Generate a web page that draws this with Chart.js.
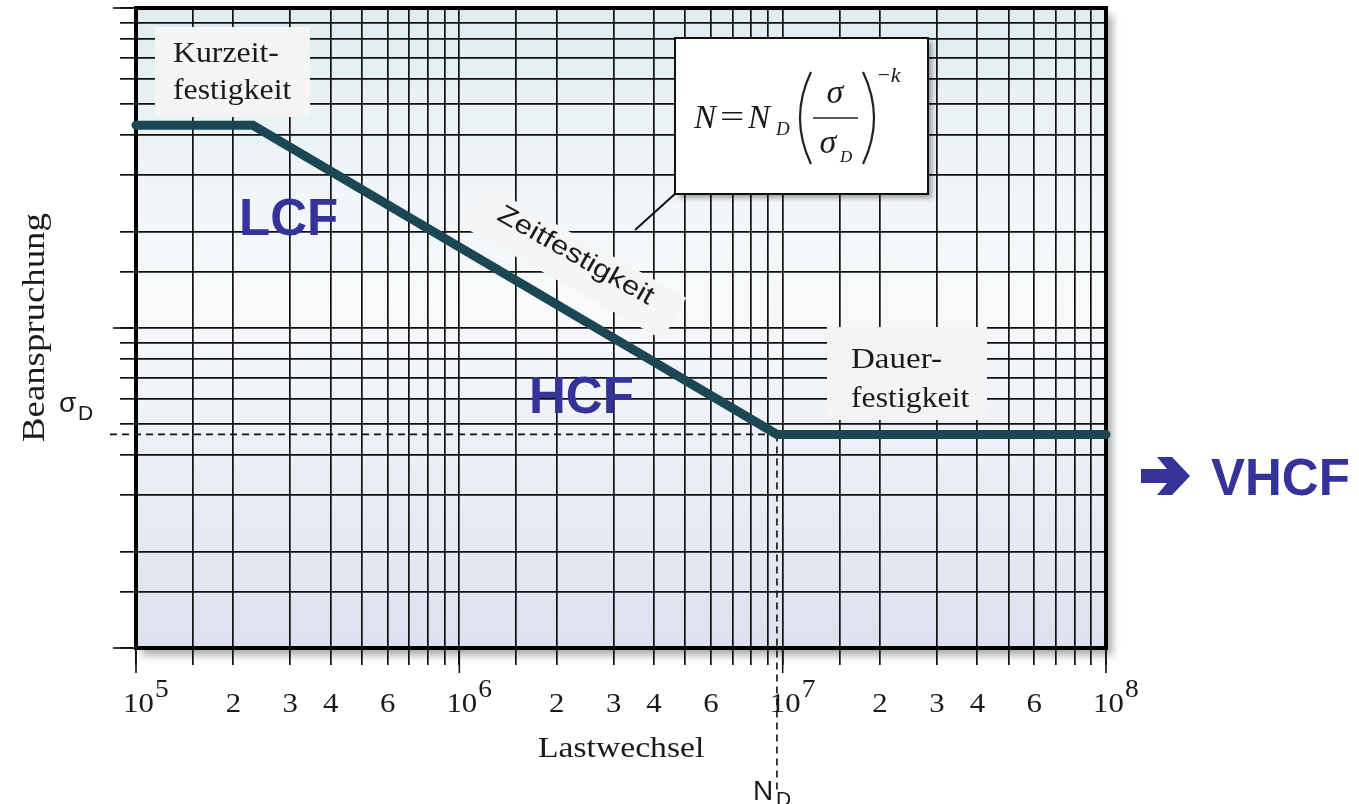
<!DOCTYPE html>
<html lang="de">
<head>
<meta charset="UTF-8">
<title>Wöhlerlinie</title>
<script src="https://cdn.jsdelivr.net/npm/chart.js"></script>
<style>
  body { margin: 0; background: #fff; }
  #wrap { width: 1359px; height: 804px; }
</style>
</head>
<body>
<div id="wrap"><canvas id="chart" width="1359" height="804"></canvas></div>
<script>
// Wöhlerlinie: Kurzzeit-, Zeit- und Dauerfestigkeit
const cycles = [1e5, 2.3e5, 9.6e6, 1e8];      // Lastwechsel
const stress = [43, 43, 4.65, 4.65];           // Beanspruchung (rel.)
const sigmaD = 4.65;
const ND = 9.6e6;

const xTickValues = [1e5, 1.5e5, 2e5, 3e5, 4e5, 5e5, 6e5, 7e5, 8e5, 9e5,
                     1e6, 1.5e6, 2e6, 3e6, 4e6, 5e6, 6e6, 7e6, 8e6, 9e6,
                     1e7, 1.5e7, 2e7, 3e7, 4e7, 5e7, 6e7, 7e7, 8e7, 9e7, 1e8];
const yTickValues = [1, 1.5, 2, 3, 4, 5, 6, 7, 8, 9,
                     10, 15, 20, 30, 40, 50, 60, 70, 80, 90, 100];
const xLabelValues = [1e5, 2e5, 3e5, 4e5, 6e5, 1e6, 2e6, 3e6, 4e6, 6e6,
                      1e7, 2e7, 3e7, 4e7, 6e7, 1e8];
const xLabelTexts = ['10^5', '2', '3', '4', '6', '10^6', '2', '3', '4', '6',
                     '10^7', '2', '3', '4', '6', '10^8'];
const decades = [1e5, 1e6, 1e7, 1e8];
const yDecades = [1, 10, 100];

const SERIF = '"Liberation Serif", "DejaVu Serif", serif';
const SANS = '"Liberation Sans", Arial, sans-serif';
const BLUE = '#333399';

function txt(ctx, s, x, y, font, o) {
    o = o || {};
    ctx.save();
    ctx.font = font;
    ctx.fillStyle = o.color || '#1a1a1a';
    ctx.textAlign = o.align || 'left';
    ctx.textBaseline = 'alphabetic';
    ctx.translate(x, y);
    if (o.rot) ctx.rotate(o.rot);
    ctx.scale(o.sx || 1, 1);
    ctx.fillText(s, 0, 0);
    ctx.restore();
}

function box(ctx, x, y, w, h, fill) {
    ctx.save();
    ctx.fillStyle = fill || '#f4f4f4';
    ctx.fillRect(x, y, w, h);
    ctx.restore();
}

const decor = {
    id: 'decor',
    beforeDraw(chart) {
        const ctx = chart.ctx, a = chart.chartArea;
        ctx.save();
        ctx.shadowColor = 'rgba(0,0,0,0.35)';
        ctx.shadowBlur = 8;
        ctx.shadowOffsetX = 6;
        ctx.shadowOffsetY = 7;
        const g = ctx.createLinearGradient(0, a.top, 0, a.bottom);
        g.addColorStop(0, '#e1ecf0');
        g.addColorStop(0.45, '#f8fafb');
        g.addColorStop(1, '#dce1ee');
        ctx.fillStyle = g;
        ctx.fillRect(a.left, a.top, a.right - a.left, a.bottom - a.top);
        ctx.restore();
    },
    beforeDatasetsDraw(chart) {
        const ctx = chart.ctx, a = chart.chartArea;
        const xs = chart.scales.x, ys = chart.scales.y;

        // longer ticks at the decades
        ctx.save();
        ctx.strokeStyle = '#111';
        ctx.lineWidth = 1.6;
        decades.forEach(v => {
            const px = xs.getPixelForValue(v);
            ctx.beginPath(); ctx.moveTo(px, a.bottom); ctx.lineTo(px, a.bottom + 25); ctx.stroke();
        });
        yDecades.forEach(v => {
            const py = ys.getPixelForValue(v);
            ctx.beginPath(); ctx.moveTo(a.left, py); ctx.lineTo(a.left - 23, py); ctx.stroke();
        });
        ctx.restore();

        // thick frame
        ctx.save();
        ctx.strokeStyle = '#000';
        ctx.lineWidth = 4;
        ctx.strokeRect(a.left, a.top, a.right - a.left, a.bottom - a.top);
        ctx.restore();

        // label boxes
        box(ctx, 155, 27, 155, 90, '#f5f5f5');
        txt(ctx, 'Kurzeit-', 173, 62, '30px ' + SERIF, {sx: 1.06});
        txt(ctx, 'festigkeit', 173, 99, '30px ' + SERIF, {sx: 1.06});

        box(ctx, 827, 327, 160, 93, '#f4f4f4');
        txt(ctx, 'Dauer-', 851, 368, '30px ' + SERIF, {sx: 1.1});
        txt(ctx, 'festigkeit', 851, 407, '30px ' + SERIF, {sx: 1.06});

        // Zeitfestigkeit, rotated along the slope
        ctx.save();
        ctx.translate(572, 262);
        ctx.rotate(29.5 * Math.PI / 180);
        ctx.fillStyle = '#f4f5f6';
        ctx.fillRect(-115, -25, 232, 48);
        ctx.restore();
        txt(ctx, 'Zeitfestigkeit', 572, 262, '26px ' + SANS,
            {align: 'center', rot: 29.5 * Math.PI / 180, sx: 1.2});

        // dashed guides for sigma_D and N_D
        const kx = xs.getPixelForValue(ND), ky = ys.getPixelForValue(sigmaD);
        ctx.save();
        ctx.strokeStyle = '#111';
        ctx.lineWidth = 1.6;
        ctx.setLineDash([7, 5]);
        ctx.beginPath(); ctx.moveTo(110, ky); ctx.lineTo(kx, ky); ctx.stroke();
        ctx.beginPath(); ctx.moveTo(kx, ky); ctx.lineTo(kx, 792); ctx.stroke();
        ctx.restore();
    },
    afterDraw(chart) {
        const ctx = chart.ctx;
        const xs = chart.scales.x;

        // x tick labels
        xLabelValues.forEach((v, i) => {
            const px = xs.getPixelForValue(v);
            const t = xLabelTexts[i];
            if (t.indexOf('^') > 0) {
                const [b, e] = t.split('^');
                txt(ctx, b, px + 2.5, 712, '28px ' + SERIF, {align: 'center', sx: 1.1});
                txt(ctx, e, px + 19, 697, '25px ' + SERIF, {sx: 1.1});
            } else {
                txt(ctx, t, px, 712, '28px ' + SERIF, {align: 'center', sx: 1.1});
            }
        });

        txt(ctx, 'Lastwechsel', 538, 757, '29px ' + SERIF, {sx: 1.16});
        txt(ctx, 'Beanspruchung', 44, 442, '32px ' + SERIF, {rot: -Math.PI / 2, sx: 1.15});

        txt(ctx, 'σ', 59, 412, '28px ' + SANS);
        txt(ctx, 'D', 78, 420, '21px ' + SANS);
        txt(ctx, 'N', 753, 800, '28px ' + SANS);
        txt(ctx, 'D', 776, 806, '21px ' + SANS);

        txt(ctx, 'LCF', 239, 235, 'bold 51px ' + SANS, {color: BLUE});
        txt(ctx, 'HCF', 529, 413, 'bold 51px ' + SANS, {color: BLUE});
        txt(ctx, 'VHCF', 1211, 495, 'bold 51px ' + SANS, {color: BLUE});

        // arrow in front of VHCF
        ctx.save();
        ctx.fillStyle = BLUE;
        ctx.beginPath();
        ctx.moveTo(1141, 469); ctx.lineTo(1167, 469); ctx.lineTo(1157, 457);
        ctx.lineTo(1172, 457); ctx.lineTo(1190, 476); ctx.lineTo(1172, 495);
        ctx.lineTo(1157, 495); ctx.lineTo(1167, 483); ctx.lineTo(1141, 483);
        ctx.closePath(); ctx.fill();
        ctx.restore();

        // formula box with callout
        ctx.save();
        ctx.strokeStyle = '#111';
        ctx.lineWidth = 2;
        ctx.beginPath(); ctx.moveTo(676, 193); ctx.lineTo(635, 230); ctx.stroke();
        ctx.shadowColor = 'rgba(0,0,0,0.35)';
        ctx.shadowBlur = 5;
        ctx.shadowOffsetX = 4;
        ctx.shadowOffsetY = 4;
        ctx.fillStyle = '#fff';
        ctx.fillRect(675, 38, 253, 156);
        ctx.shadowColor = 'transparent';
        ctx.strokeRect(675, 38, 253, 156);
        ctx.restore();

        const IT = 'italic ';
        txt(ctx, 'N', 694, 128, IT + '33px ' + SERIF);
        txt(ctx, '=', 720, 127, '32px ' + SERIF, {sx: 1.35});
        txt(ctx, 'N', 748, 128, IT + '33px ' + SERIF);
        txt(ctx, 'D', 776, 135, IT + '19px ' + SERIF);
        txt(ctx, 'σ', 835, 103, IT + '34px ' + SERIF, {align: 'center'});
        txt(ctx, 'σ', 828, 153, IT + '34px ' + SERIF, {align: 'center'});
        txt(ctx, 'D', 840, 162, IT + '17px ' + SERIF);
        txt(ctx, '−k', 876, 82, IT + '22px ' + SERIF);
        ctx.save();
        ctx.strokeStyle = '#222';
        ctx.lineWidth = 1.6;
        ctx.beginPath(); ctx.moveTo(813, 118); ctx.lineTo(858, 118); ctx.stroke();
        ctx.lineWidth = 2.2;
        ctx.beginPath(); ctx.moveTo(811, 72); ctx.quadraticCurveTo(789, 118, 811, 164); ctx.stroke();
        ctx.beginPath(); ctx.moveTo(863, 72); ctx.quadraticCurveTo(885, 118, 863, 164); ctx.stroke();
        ctx.restore();
    }
};

const ctx = document.getElementById('chart').getContext('2d');
new Chart(ctx, {
    type: 'scatter',
    data: {
        datasets: [{
            data: cycles.map((c, i) => ({x: c, y: stress[i]})),
            showLine: true,
            borderColor: '#1b4654',
            borderWidth: 9,
            borderCapStyle: 'round',
            borderJoinStyle: 'miter',
            pointRadius: 0,
            clip: 8
        }]
    },
    options: {
        responsive: false,
        animation: false,
        layout: { padding: { left: 120, top: 8, right: 253, bottom: 139 } },
        plugins: { legend: { display: false }, tooltip: { enabled: false } },
        scales: {
            x: {
                type: 'logarithmic',
                position: 'bottom',
                min: 1e5, max: 1e8,
                afterBuildTicks: s => { s.ticks = xTickValues.map(v => ({value: v})); },
                afterFit: s => { s.height = 17; },
                ticks: { display: false },
                border: { display: false },
                grid: { color: '#111', lineWidth: 1.7, tickLength: 17, tickColor: '#111' }
            },
            y: {
                type: 'logarithmic',
                position: 'left',
                min: 1, max: 100,
                afterBuildTicks: s => { s.ticks = yTickValues.map(v => ({value: v})); },
                afterFit: s => { s.width = 16; },
                ticks: { display: false },
                border: { display: false },
                grid: { color: '#111', lineWidth: 1.7, tickLength: 16, tickColor: '#111' }
            }
        }
    },
    plugins: [decor]
});
</script>
</body>
</html>
